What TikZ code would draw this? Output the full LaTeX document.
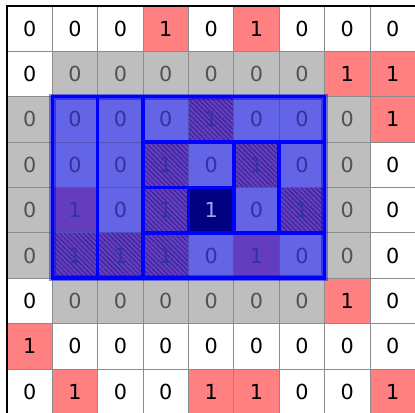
\documentclass[tikz,border=0pt]{standalone}
\usepackage{fontspec}
\setmainfont{DejaVu Sans}
\usetikzlibrary{patterns}

\definecolor{cellred}{HTML}{FF8080}
\definecolor{cellgray}{HTML}{BEBEBE}
\definecolor{cellblue}{HTML}{6464E6}
\definecolor{cellpurple}{HTML}{643CBE}
\definecolor{cellnavy}{HTML}{000080}
\definecolor{hatchblue}{HTML}{2A1E8C}
\definecolor{textblue}{HTML}{3232A0}

\begin{document}
\begin{tikzpicture}[
  x=1cm, y=1cm,
  font=\fontsize{13}{15}\selectfont,
  cell/.style={draw=black!45, line width=0.5pt, minimum size=1cm, inner sep=0pt,
               outer sep=0pt, anchor=center},
  cw/.style={cell, fill=white},
  cr/.style={cell, fill=cellred},
  cg/.style={cell, fill=cellgray, text=black!68},
  cb/.style={cell, fill=cellblue, draw=cellblue!80!black, text=textblue},
  cp/.style={cb, fill=cellpurple},
  ch/.style={cb, preaction={fill=cellpurple}, pattern=north west lines,
             pattern color=hatchblue},
  cn/.style={cb, fill=cellnavy, text=cellblue!60!white},
  part/.style={draw=blue, line width=2.2pt, line cap=rect},
]
\useasboundingbox (-0.154,0.132) rectangle (8.992,-8.970);
\clip (-0.154,0.132) rectangle (8.992,-8.970);

% ---- cells: value/kind, one row per entry ----
\foreach \row [count=\r from 0] in {
  {0/cw,0/cw,0/cw,1/cr,0/cw,1/cr,0/cw,0/cw,0/cw},
  {0/cw,0/cg,0/cg,0/cg,0/cg,0/cg,0/cg,1/cr,1/cr},
  {0/cg,0/cb,0/cb,0/cb,1/ch,0/cb,0/cb,0/cg,1/cr},
  {0/cg,0/cb,0/cb,1/ch,0/cb,1/ch,0/cb,0/cg,0/cw},
  {0/cg,1/cp,0/cb,1/ch,1/cn,0/cb,1/ch,0/cg,0/cw},
  {0/cg,1/ch,1/ch,1/ch,0/cb,1/cp,0/cb,0/cg,0/cw},
  {0/cw,0/cg,0/cg,0/cg,0/cg,0/cg,0/cg,1/cr,0/cw},
  {1/cr,0/cw,0/cw,0/cw,0/cw,0/cw,0/cw,0/cw,0/cw},
  {0/cw,1/cr,0/cw,0/cw,1/cr,1/cr,0/cw,0/cw,1/cr}} {
  \foreach \v/\k [count=\c from 0] in \row
    \node[\k] (c\r-\c) at (\c+0.5,-\r-0.5) {\v};
}

% ---- outer frame ----
\draw[black, line width=1pt] (c0-0.north west) rectangle (c8-8.south east);

% ---- blue block and its parts ----
\draw[blue, opacity=0.45, line width=4pt] (c2-1.north west) rectangle (c5-6.south east);
\draw[part] (c2-1.north west) rectangle (c5-6.south east);
\draw[part] (c2-1.north east) -- (c5-1.south east);
\draw[part] (c2-2.north east) -- (c5-2.south east);
\draw[part] (c3-3.north west) -- (c3-6.north east);
\draw[part] (c4-3.north west) -- (c4-4.north east);
\draw[part] (c5-3.north west) -- (c5-6.north east);
\draw[part] (c3-4.north east) -- (c4-4.south east);
\draw[part] (c4-3.north east) -- (c4-3.south east);
\draw[part] (c3-5.north east) -- (c4-5.south east);
\end{tikzpicture}
\end{document}
